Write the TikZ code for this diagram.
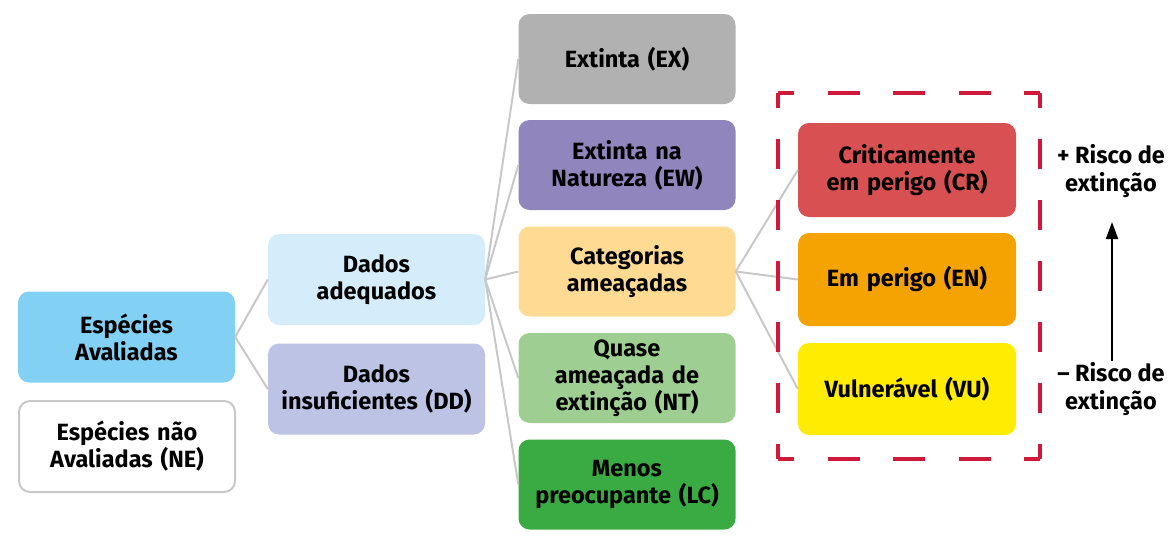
\documentclass[tikz,border=0pt]{standalone}
\usepackage{fontspec}
\setmainfont{Fira Sans}[BoldFont={Fira Sans Bold}]
\usetikzlibrary{arrows.meta}
\definecolor{cEA}{HTML}{83D0F5}
\definecolor{cDA}{HTML}{D5ECFB}
\definecolor{cDD}{HTML}{BCC3E5}
\definecolor{cEX}{HTML}{B1B1B1}
\definecolor{cEW}{HTML}{9086BD}
\definecolor{cCA}{HTML}{FEDA93}
\definecolor{cNT}{HTML}{9FCE93}
\definecolor{cLC}{HTML}{3AAA43}
\definecolor{cCR}{HTML}{D95052}
\definecolor{cEN}{HTML}{F4A300}
\definecolor{cVU}{HTML}{FFEC00}
\definecolor{cline}{HTML}{C8C8C8}
\definecolor{cred}{HTML}{D0193A}
\begin{document}
\begin{tikzpicture}[x=1pt,y=-1pt,
  box/.style={rectangle, rounded corners=11pt, inner sep=0pt, minimum width=217pt, minimum height=91pt,
    align=center, text width=215pt, font=\fontsize{23.5}{27}\selectfont\bfseries},
  conn/.style={draw=cline, line width=2pt},
  reddash/.style={draw=cred, line width=4pt},
  risk/.style={align=center, font=\fontsize{23.5}{28}\selectfont\bfseries, inner sep=0pt}]
\useasboundingbox (0,0) rectangle (1170,538);
\node[box, fill=cEA] (EA) at (126.5,337) {Espécies\\Avaliadas};
\node[box, fill=white, draw=cline, line width=2pt, minimum width=216pt, minimum height=91pt] (NE) at (127,446.5) {Espécies não\\Avaliadas (NE)};
\node[box, fill=cDA] (DA) at (376.5,279.5) {Dados\\adequados};
\node[box, fill=cDD] (DD) at (376.5,389) {Dados\\insuficientes (DD)};
\node[box, fill=cEX, minimum height=90pt] (EX) at (627,59) {Extinta (EX)};
\node[box, fill=cEW, minimum height=90pt] (EW) at (627,165) {Extinta na\\Natureza (EW)};
\node[box, fill=cCA, minimum height=90pt] (CA) at (627,271.5) {Categorias\\ameaçadas};
\node[box, fill=cNT, minimum height=90pt] (NT) at (627,378) {Quase\\ameaçada de\\extinção (NT)};
\node[box, fill=cLC, minimum height=90pt] (LC) at (627,484.5) {Menos\\preocupante (LC)};
\node[box, fill=cCR, minimum width=218pt, minimum height=94pt] (CR) at (907,170) {Criticamente\\em perigo (CR)};
\node[box, fill=cEN, minimum width=218pt, minimum height=93pt] (EN) at (907,279.5) {Em perigo (EN)};
\node[box, fill=cVU, minimum width=218pt, minimum height=92pt] (VU) at (907,389) {Vulnerável (VU)};
% connectors
\draw[conn] (EA.east) -- (DA.west);
\draw[conn] (EA.east) -- (DD.west);
\foreach \t in {EX,EW,CA,NT,LC} \draw[conn] (DA.east) -- (\t.west);
\foreach \t in {CR,EN,VU} \draw[conn] (CA.east) -- (\t.west);
% dashed frame
\coordinate (f1) at (778,93);
\coordinate (f2) at (1040,93);
\coordinate (f3) at (1040,459);
\coordinate (f4) at (778,459);
\draw[reddash, dash pattern=on 32pt off 33.5pt, dash phase=16pt] (f1) -- (f2);
\draw[reddash, dash pattern=on 32pt off 33.5pt, dash phase=16pt] (f4) -- (f3);
\draw[reddash, dash pattern=on 30pt off 31pt, dash phase=15pt] (f1) -- (f4);
\draw[reddash, dash pattern=on 30pt off 31pt, dash phase=15pt] (f2) -- (f3);
% risk labels
\node[risk] (plus) at (1111,171) {+ Risco de\\extinção};
\node[risk] (minus) at (1111,389) {– Risco de\\extinção};
\coordinate (abot) at (1112,361);
\coordinate (atop) at (1112,222);
\draw[line width=2pt, -{Triangle[length=17pt,width=12pt]}] (abot) -- (atop);
\end{tikzpicture}
\end{document}
